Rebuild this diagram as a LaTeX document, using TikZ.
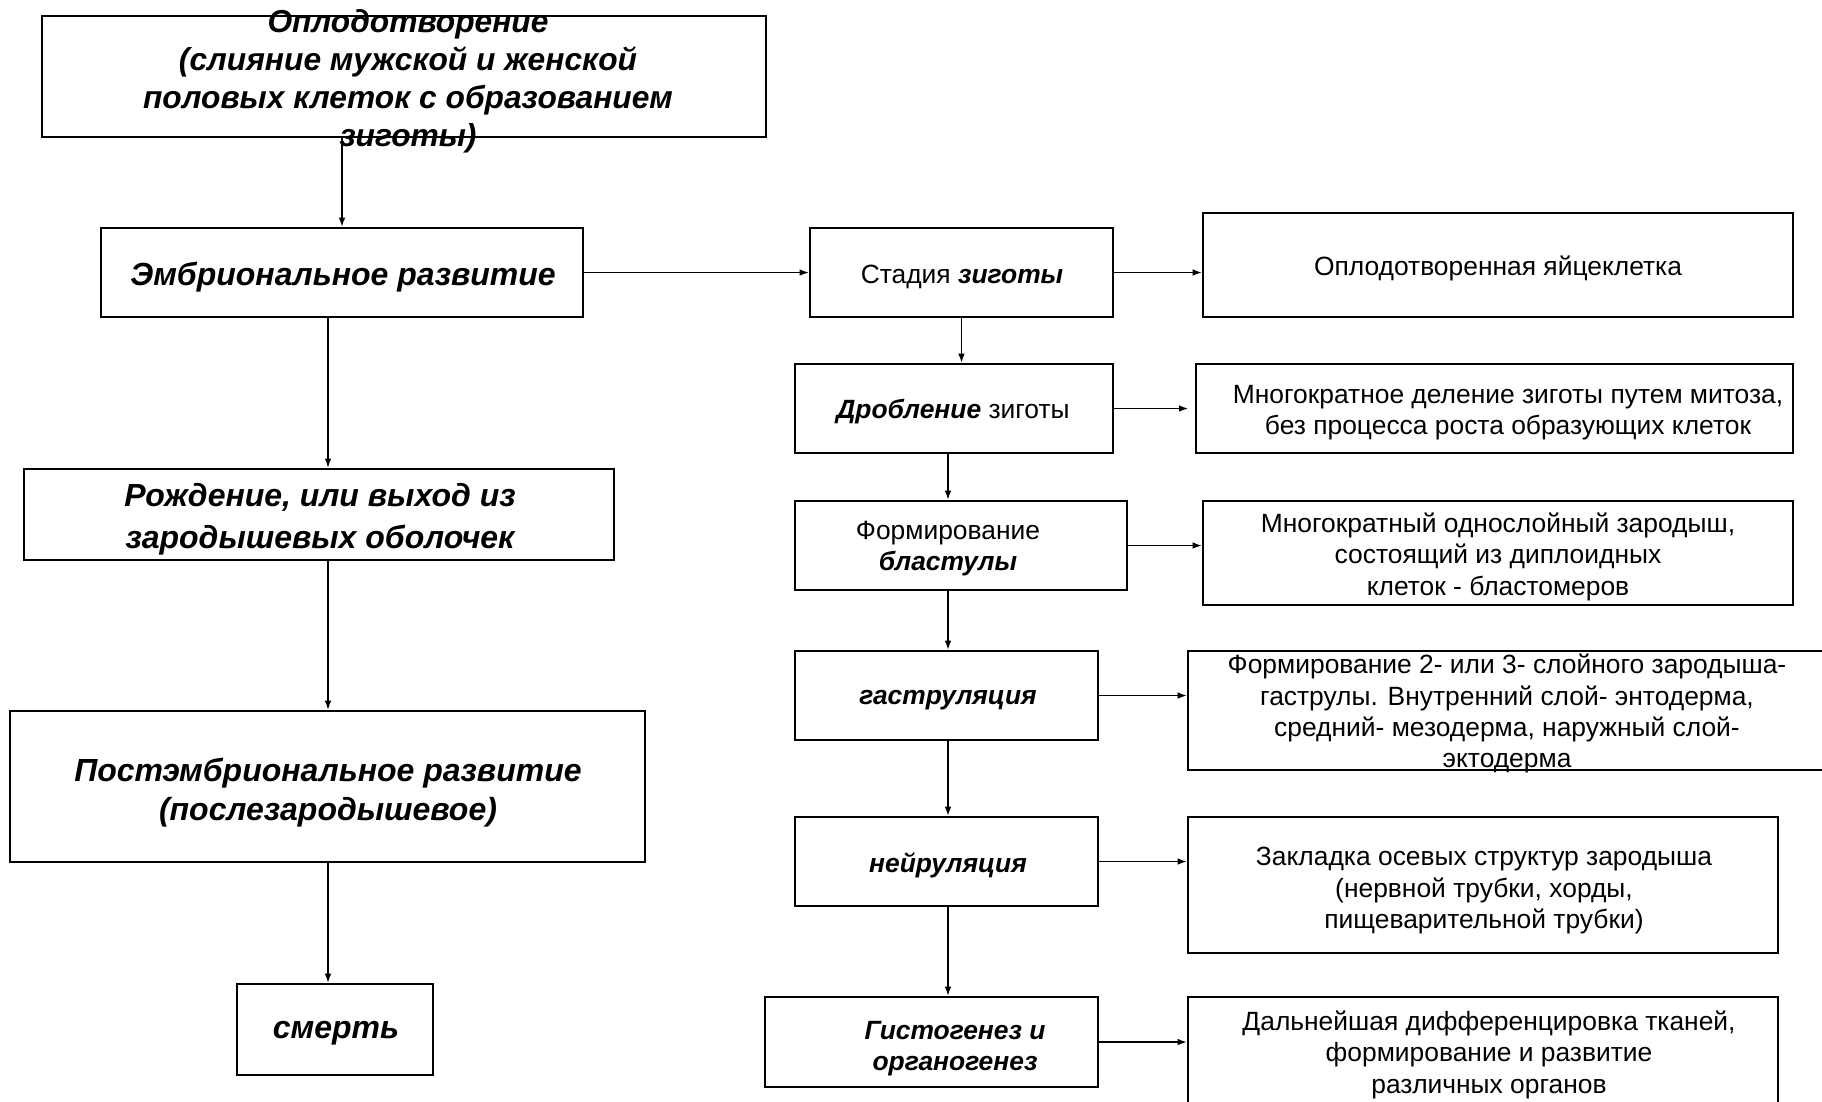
\documentclass[tikz,border=0pt]{standalone}
\usepackage{fontspec}
\setmainfont{Liberation Sans}
\usetikzlibrary{arrows.meta,fit}
\begin{document}
\begin{tikzpicture}[x=0.75pt,y=-0.75pt,
  box/.style={draw=black,line width=1.5pt,inner sep=0pt},
  arr/.style={-{Latex[length=7pt,width=5pt]},line width=1.3pt},
  bi/.style={font=\fontsize{24}{30}\selectfont\bfseries\itshape,align=center,inner sep=0pt,yshift=-2.5pt},
  rt/.style={font=\fontsize{19.8}{23.5}\selectfont,align=center,inner sep=0pt,yshift=-2pt}]
\useasboundingbox (0,0) rectangle (1822,1101);
\fill[white] (0,0) rectangle (1822,1101);
\coordinate (L) at (328,0);
\coordinate (R) at (948,0);
% left column
\node[box,fit={(42,16) (766,137)}] (b1) {};
\node[bi,font=\fontsize{23.8}{28.5}\selectfont\bfseries\itshape] (t1) at (408,78) {Оплодотворение\\(слияние мужской и женской\\половых клеток с образованием\\зиготы)};
\node[box,fit={(101,228) (583,317)}] (b2) {};
\node[bi] (t2) at (343,274) {Эмбриональное развитие};
\node[box,fit={(24,469) (614,560)}] (b3) {};
\node[bi,font=\fontsize{24}{31}\selectfont\bfseries\itshape] (t3) at (320,516) {Рождение, или выход из\\зародышевых оболочек};
\node[box,fit={(10,711) (645,862)}] (b4) {};
\node[bi,font=\fontsize{24}{29}\selectfont\bfseries\itshape] (t4) at (328,789) {Постэмбриональное развитие\\(послезародышевое)};
\node[box,fit={(237,984) (433,1075)}] (b5) {};
\node[bi] (t5) at (336,1030) {смерть};
% middle column
\node[box,fit={(810,228) (1113,317)}] (m1) {};
\node[rt] (s1) at (962,274) {Стадия \textbf{\textit{зиготы}}};
\node[box,fit={(795,364) (1113,453)}] (m2) {};
\node[rt] (s2) at (953,409) {\textbf{\textit{Дробление}} зиготы};
\node[box,fit={(795,501) (1127,590)}] (m3) {};
\node[rt] (s3) at (948,546) {Формирование\\\textbf{\textit{бластулы}}};
\node[box,fit={(795,651) (1098,740)}] (m4) {};
\node[rt] (s4) at (948,697) {\textbf{\textit{гаструляция}}};
\node[box,fit={(795,817) (1098,906)}] (m5) {};
\node[rt] (s5) at (948,863) {\textbf{\textit{нейруляция}}};
\node[box,fit={(765,997) (1098,1087)}] (m6) {};
\node[rt] (s6) at (955,1046) {\textbf{\textit{Гистогенез и}}\\\textbf{\textit{органогенез}}};
% right column
\node[box,fit={(1203,213) (1793,317)}] (r1) {};
\node[rt] (u1) at (1498,266) {Оплодотворенная яйцеклетка};
\node[box,fit={(1196,364) (1793,453)}] (r2) {};
\node[rt] (u2) at (1508,410) {Многократное деление зиготы путем митоза,\\без процесса роста образующих клеток};
\node[box,fit={(1203,501) (1793,605)}] (r3) {};
\node[rt] (u3) at (1498,554) {Многократный однослойный зародыш,\\состоящий из диплоидных\\клеток - бластомеров};
\node[box,fit={(1188,651) (1830,770)}] (r4) {};
\node[rt] (u4) at (1507,711) {Формирование 2- или 3- слойного зародыша-\\гаструлы. Внутренний слой- энтодерма,\\средний- мезодерма, наружный слой-\\эктодерма};
\node[box,fit={(1188,817) (1778,953)}] (r5) {};
\node[rt] (u5) at (1484,888) {Закладка осевых структур зародыша\\(нервной трубки, хорды,\\пищеварительной трубки)};
\node[box,fit={(1188,997) (1778,1115)}] (r6) {};
\node[rt] (u6) at (1489,1052) {Дальнейшая дифференцировка тканей,\\формирование и развитие\\различных органов};
% arrows left
\draw[arr] (b2.north |- b1.south) -- (b2.north);
\draw[arr] (b2.south -| L) -- (b3.north -| L);
\draw[arr] (b3.south -| L) -- (b4.north -| L);
\draw[arr] (b4.south -| L) -- (b5.north -| L);
\draw[arr] (b2.east) -- (m1.west |- b2.east);
% middle
\draw[arr] (m1.south) -- (m1.south |- m2.north);
\draw[arr] (m2.south -| R) -- (m3.north -| R);
\draw[arr] (m3.south -| R) -- (m4.north -| R);
\draw[arr] (m4.south -| R) -- (m5.north -| R);
\draw[arr] (m5.south -| R) -- (m6.north -| R);
% horizontal
\draw[arr] (m1.east) -- (r1.west |- m1.east);
\draw[arr] (m2.east) -- ([xshift=-5pt]r2.west |- m2.east);
\draw[arr] (m3.east) -- (r3.west |- m3.east);
\draw[arr] (m4.east) -- (r4.west |- m4.east);
\draw[arr] (m5.east) -- (r5.west |- m5.east);
\draw[arr] (m6.east) -- (r6.west |- m6.east);
\end{tikzpicture}
\end{document}
